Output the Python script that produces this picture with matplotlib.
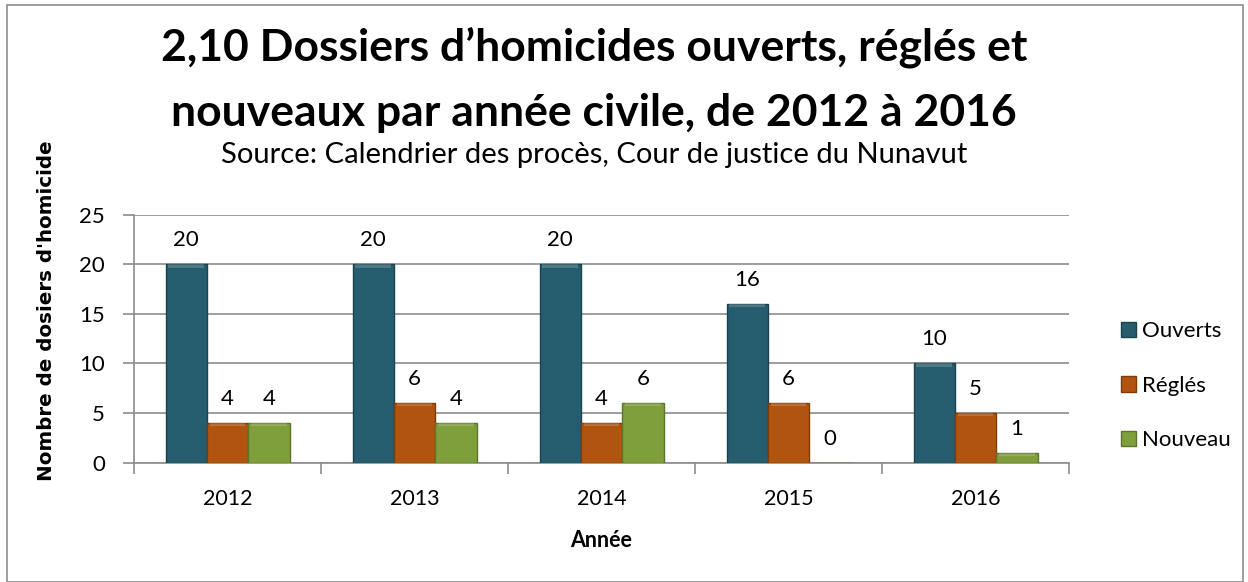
import matplotlib
matplotlib.use("Agg")
import matplotlib.pyplot as plt
from matplotlib.patches import Rectangle
import numpy as np

# Données du graphique
annees = ["2012", "2013", "2014", "2015", "2016"]
ouverts = [20, 20, 20, 16, 10]
regles = [4, 6, 4, 6, 5]
nouveau = [4, 4, 6, 0, 1]
series = ["Ouverts", "Réglés", "Nouveau"]

couleurs = ["#265D6E", "#B05410", "#7F9E3C"]
bords = ["#1A4350", "#7E3B0A", "#5C752A"]

plt.rcParams['font.family'] = ['Lato', 'DejaVu Sans']

fig = plt.figure(figsize=(12.48, 5.82), dpi=100)
ax = fig.add_axes([0.1074, 0.2053, 0.7492, 0.4261])

x = np.arange(len(annees))
w = 0.221
valeurs = [ouverts, regles, nouveau]
for k, vals in enumerate(valeurs):
    pos = x + (k - 1) * w
    barres = ax.bar(pos, vals, width=w, color=couleurs[k], edgecolor=bords[k],
                    linewidth=1.0, label=series[k], zorder=3)
    # petite bande claire en haut (effet biseau)
    for p, v in zip(pos, vals):
        if v > 0:
            ax.bar(p, min(0.35, v), bottom=v - min(0.35, v), width=w * 0.86,
                   color="white", alpha=0.18, linewidth=0, zorder=4)
    ax.bar_label(barres, labels=[str(v) for v in vals], padding=10, fontsize=16)

ax.set_xlim(-0.5, len(annees) - 0.5)
ax.set_ylim(0, 25)
ax.set_yticks(range(0, 26, 5))
ax.yaxis.grid(True, color="#8C8C8C", linewidth=1.2, zorder=0)

# graduations x entre les catégories
ax.set_xticks(np.arange(-0.5, len(annees), 1.0))
ax.set_xticklabels([])
ax.set_xticks(x, minor=True)
ax.set_xticklabels(annees, minor=True, fontsize=15.5)
ax.tick_params(axis="x", which="major", length=8, color="#8C8C8C", width=1.2)
ax.tick_params(axis="x", which="minor", length=0, pad=19)
ax.tick_params(axis="y", length=8, color="#8C8C8C", width=1.2, labelsize=16, pad=13)

for s in ["top", "right"]:
    ax.spines[s].set_visible(False)
for s in ["left", "bottom"]:
    ax.spines[s].set_color("#8C8C8C")
    ax.spines[s].set_linewidth(1.2)

ax.set_xlabel("Année", fontsize=15.5, fontweight="bold", labelpad=15)
fig.text(0.037, 0.466, "Nombre de dosiers d'homicide", rotation=90, ha="center",
         va="center", fontsize=14.3, fontweight="bold", family=["DejaVu Sans"])

# titres
fig.text(0.476, 0.919, "2,10 Dossiers d’homicides ouverts, réglés et",
         ha="center", va="center", fontsize=32, fontweight="bold")
fig.text(0.476, 0.806, "nouveaux par année civile, de 2012 à 2016",
         ha="center", va="center", fontsize=32, fontweight="bold")
fig.text(0.476, 0.733, "Source: Calendrier des procès, Cour de justice du Nunavut",
         ha="center", va="center", fontsize=21)

fig.legend(loc="center left", bbox_to_anchor=(0.889, 0.337), frameon=False,
           fontsize=16, handlelength=0.7, handleheight=0.7, handletextpad=0.25,
           labelspacing=1.55, borderpad=0)

# cadre du graphique
fig.patches.append(Rectangle((7 / 1248, 0.0), 1236 / 1248, 577 / 582,
                             transform=fig.transFigure, fill=False,
                             edgecolor="#8C8C8C", linewidth=1.2))

fig.savefig("out.png", dpi=100)
